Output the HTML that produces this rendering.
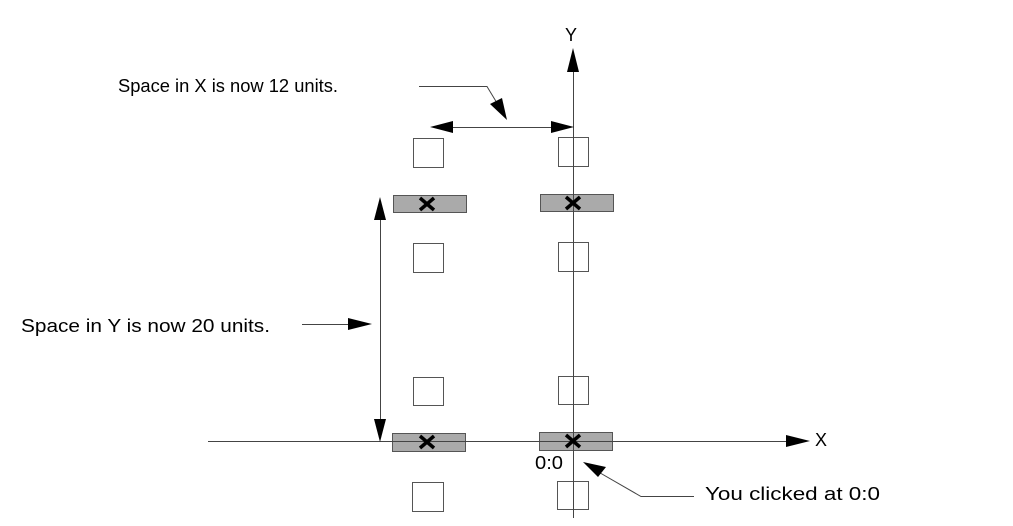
<!DOCTYPE html>
<html><head><meta charset="utf-8"><style>html,body{margin:0;padding:0;background:#fff}svg{display:block}</style></head>
<body>
<svg width="1013" height="526" viewBox="0 0 1013 526" xmlns="http://www.w3.org/2000/svg" font-family="Liberation Sans, Arial, sans-serif" font-size="18">
<rect width="1013" height="526" fill="#fff"/>
<g stroke="#555" stroke-width="1" fill="#fff">
<rect x="413.5" y="138.5" width="30" height="29"/>
<rect x="558.5" y="137.5" width="30" height="29"/>
<rect x="413.5" y="243.5" width="30" height="29"/>
<rect x="558.5" y="242.5" width="30" height="29"/>
<rect x="413.5" y="377.5" width="30" height="28"/>
<rect x="558.5" y="376.5" width="30" height="28"/>
<rect x="412.5" y="482.5" width="31" height="29"/>
<rect x="557.5" y="481.5" width="31" height="28"/>
</g>
<g stroke="#555" stroke-width="1" fill="#aaa">
<rect x="393.5" y="195.5" width="73" height="17"/>
<rect x="540.5" y="194.5" width="73" height="17"/>
<rect x="392.5" y="433.5" width="73" height="18"/>
<rect x="539.5" y="432.5" width="73" height="18"/>
</g>
<g stroke="#444" stroke-width="1" fill="none">
<line x1="573.5" y1="60" x2="573.5" y2="518"/>
<line x1="208" y1="441.5" x2="790" y2="441.5"/>
<line x1="440" y1="127.5" x2="565" y2="127.5"/>
<line x1="380.5" y1="210" x2="380.5" y2="430"/>
<polyline points="419,86.5 487,86.5 500,108"/>
<line x1="302" y1="324.5" x2="352" y2="324.5"/>
<polyline points="694,496.5 641,496.5 595,470"/>
</g>
<g fill="#000">
<polygon points="573,48 567,72 579,72"/>
<polygon points="810,441 786,435 786,447"/>
<polygon points="430,127 453,121 453,133"/>
<polygon points="574,127 551,121 551,133"/>
<polygon points="507,120 490,104 502,98"/>
<polygon points="380,197 374,220 386,220"/>
<polygon points="380,442 374,419 386,419"/>
<polygon points="372,324 348,318 348,330"/>
<polygon points="583,462 606,467 598,477"/>
</g>
<g stroke="#000" stroke-width="3.5">
<line x1="420" y1="198" x2="434" y2="210"/><line x1="434" y1="198" x2="420" y2="210"/>
<line x1="566" y1="197" x2="580" y2="209"/><line x1="580" y1="197" x2="566" y2="209"/>
<line x1="420" y1="436" x2="434" y2="448"/><line x1="434" y1="436" x2="420" y2="448"/>
<line x1="566" y1="435" x2="580" y2="447"/><line x1="580" y1="435" x2="566" y2="447"/>
</g>
<g fill="#000">
<text x="118" y="92" textLength="220" lengthAdjust="spacingAndGlyphs">Space in X is now 12 units.</text>
<text x="21" y="332" textLength="249" lengthAdjust="spacingAndGlyphs">Space in Y is now 20 units.</text>
<text x="705" y="500" textLength="175" lengthAdjust="spacingAndGlyphs">You clicked at 0:0</text>
<text x="535" y="469" textLength="28" lengthAdjust="spacingAndGlyphs">0:0</text>
<text x="565" y="41">Y</text>
<text x="815" y="446">X</text>
</g>
</svg>
</body></html>
